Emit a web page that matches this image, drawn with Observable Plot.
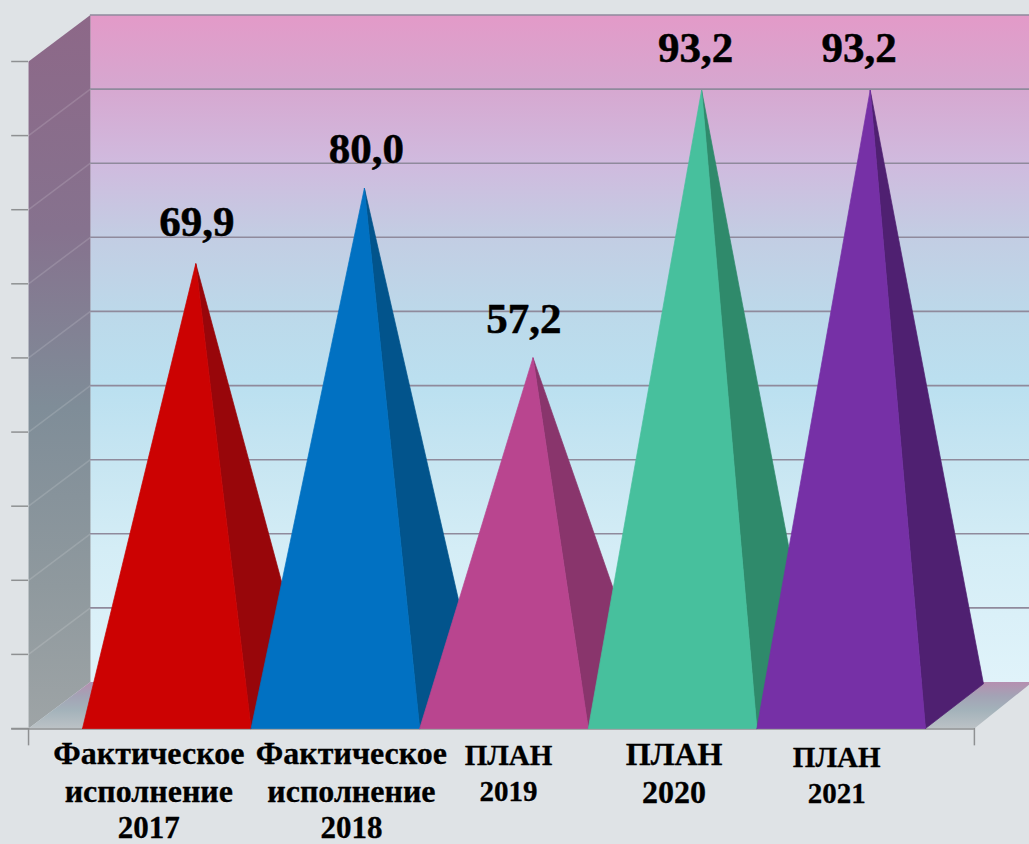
<!DOCTYPE html>
<html><head><meta charset="utf-8">
<script src="https://cdn.jsdelivr.net/npm/d3@7"></script>
<script src="https://cdn.jsdelivr.net/npm/@observablehq/plot@0.6"></script>
<style>html,body{margin:0;padding:0;background:#dfe3e6;overflow:hidden}svg{display:block;background:transparent}</style>
</head><body><div id="chart"></div>
<script>
const values = [69.9, 80.0, 57.2, 93.2, 93.2];
const peaks = [69.7, 81.0, 55.6, 95.7, 95.7];
const frontFaces = ["#cc0202", "#0171c2", "#b9458f", "#47c09d", "#7630a6"];
const sideFaces = ["#98060a", "#02548c", "#89356c", "#2f8a6b", "#4f2071"];
const axisTicks = [0, 11.11, 22.22, 33.33, 44.44, 55.56, 66.67, 77.78, 88.89, 100];
const valueShift = [1, 2, -9, -6, -11];
const valueLift = [28, 25, 25, 28, 28];
const categoryLines = [
  ["Фактическое", "исполнение", "2017"],
  ["Фактическое", "исполнение", "2018"],
  ["ПЛАН", "2019"],
  ["ПЛАН", "2020"],
  ["ПЛАН", "2021"]
];
const lineBaselines = [[35, 73, 109], [35, 73, 109], [36, 72], [36, 74], [38, 74]];
const lineCentres = [-18, 16, 4.5, 1.5, -4.5];
const lineSizes = [[32, 32, 31], [32, 32, 31], [29, 29], [32, 32], [29, 29]];

const barDepthX = 0.344, depthY = 6.97, barDepthY = 6.7;
const wallLeft = -0.32, wallBack = 0.047, wallRight = 5.29, xMax = 5.65;

const poly = (pts, fill, stroke = "none") => Plot.line(pts, {x: "0", y: "1", fill, stroke, strokeWidth: 0.7});

function gradient(id, stops) {
  const d = d3.create("svg:defs");
  const g = d.append("linearGradient").attr("id", id).attr("x1", 0).attr("x2", 0).attr("y1", 0).attr("y2", 1);
  stops.forEach(([o, c]) => g.append("stop").attr("offset", o).attr("stop-color", c));
  return () => d.node();
}

const serif = {fontFamily: "Liberation Serif", fontWeight: "bold", fill: "#000"};
const marks = [
  gradient("wall", [[0, "#e39ac8"], [0.1, "#d7a6cf"], [0.22, "#d0bade"], [0.33, "#c3cde3"], [0.45, "#bcd9ea"], [0.56, "#bbe0f0"], [0.68, "#c8e6f2"], [0.8, "#d4edf6"], [1, "#e0f3fa"]]),
  gradient("side", [[0, "#8d6888"], [0.3, "#86728e"], [0.55, "#7f8d98"], [0.8, "#8f999e"], [1, "#9ea4a6"]]),
  gradient("floor", [[0, "#b58fb0"], [0.3, "#a3a3b5"], [0.6, "#a3b2ba"], [1, "#bcc2c6"]]),
  // back wall, side wall, floor
  poly([[wallBack, depthY], [wallBack, 100 + depthY], [xMax, 100 + depthY], [xMax, depthY]], "url(#wall)"),
  poly([[wallLeft, 0], [wallLeft, 100], [wallBack, 100 + depthY], [wallBack, depthY]], "url(#side)"),
  poly([[wallLeft, 0], [wallBack, depthY], [wallRight + barDepthX, depthY], [wallRight, 0]], "url(#floor)"),
  // gridlines
  Plot.ruleY(axisTicks.slice(1), {y: d => d + depthY, x1: wallBack, x2: xMax, stroke: "#8f8a9c", strokeWidth: 1.6}),
  Plot.link(axisTicks.slice(1, -1), {x1: wallLeft, y1: d => d, x2: wallBack, y2: d => d + depthY, stroke: "#fff", strokeOpacity: 0.14, strokeWidth: 1.5}),
  // ticks and axis
  Plot.ruleY(axisTicks, {y: d => d, x1: wallLeft - 0.1, x2: wallLeft, stroke: "#8e9092", strokeWidth: 1.5}),
  Plot.ruleY([0], {x1: wallLeft - 0.1, x2: wallRight, stroke: "#8e9092", strokeWidth: 1.5, dy: 0.5}),
  Plot.ruleX([wallLeft, wallRight], {y1: 0, y2: -2.6, stroke: "#8e9092", strokeWidth: 1.5}),
];

// pyramids, drawn left to right so each front face covers its neighbour's side face
values.forEach((_, i) => {
  const apex = [i + 0.5 + barDepthX / 2, peaks[i]];
  marks.push(poly([[i + 1, 0], apex, [i + 1 + barDepthX, barDepthY], [i + 1, 0]], sideFaces[i], sideFaces[i]));
  marks.push(poly([[i, 0], apex, [i + 1, 0], [i, 0]], frontFaces[i], frontFaces[i]));
});

// value labels
values.forEach((v, i) => {
  marks.push(Plot.text([v.toFixed(1).replace(".", ",")], {
    x: () => i + 0.5 + barDepthX / 2, y: () => peaks[i], text: d => d,
    dx: valueShift[i], dy: -valueLift[i] - 0.32 * 43, fontSize: 43, ...serif,
    stroke: "#000", strokeWidth: 0.5
  }));
});

// category labels
categoryLines.forEach((lines, i) => {
  lines.forEach((t, j) => {
    const size = lineSizes[i][j];
    marks.push(Plot.text([t], {
      x: () => i + 0.5, y: () => 0, text: d => d,
      dx: lineCentres[i], dy: lineBaselines[i][j] - 0.32 * size, fontSize: size, ...serif,
      stroke: "#000", strokeWidth: 0.3
    }));
  });
});

const chart = Plot.plot({
  width: 1029, height: 844,
  marginTop: 0, marginRight: 0, marginBottom: 0, marginLeft: 0,
  x: {domain: [0, 5], range: [82, 925], axis: null},
  y: {domain: [0, 100], range: [728, 61], axis: null},
  style: {background: "transparent"},
  marks
});
document.getElementById("chart").appendChild(chart);
</script>
</body></html>
